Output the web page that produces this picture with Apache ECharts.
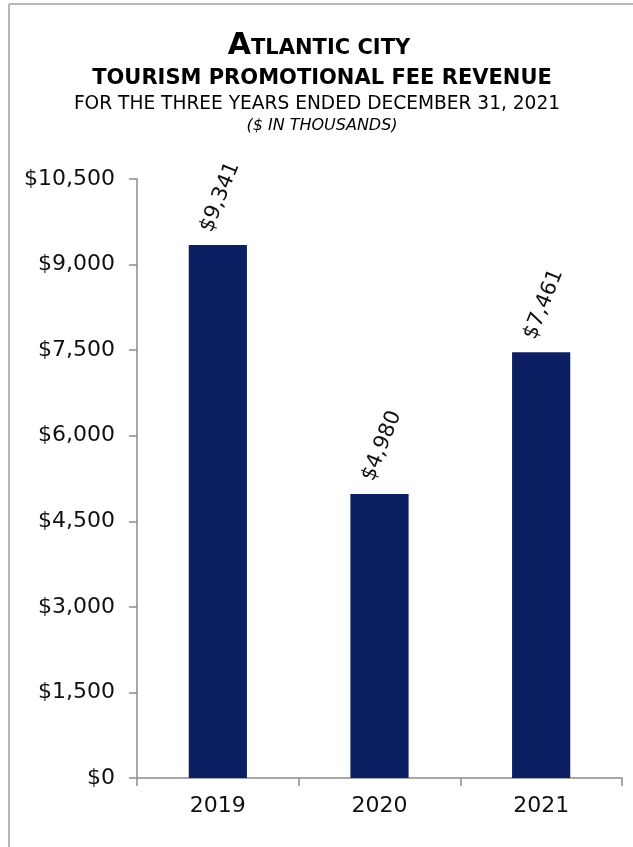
<!DOCTYPE html>
<html>
<head>
<meta charset="utf-8">
<style>
  html, body { margin: 0; padding: 0; background: #fff; }
  #main { width: 633px; height: 847px; }
</style>
<script src="https://cdn.jsdelivr.net/npm/echarts@6/dist/echarts.min.js"></script>
</head>
<body>
<div id="main"></div>
<script>
// 年份与收入（千美元）
var years = ['2019', '2020', '2021'];
var revenue = [9341, 4980, 7461];
var yMin = 0, yMax = 10500, yStep = 1500;

var font = '"DejaVu Sans", sans-serif';
var fmt = function (v) { return '$' + Number(v).toLocaleString('en-US'); };

var chart = echarts.init(document.getElementById('main'));
chart.setOption({
  animation: false,
  textStyle: { fontFamily: font },
  graphic: [
    // 外框
    { type: 'line', shape: { x1: 9, y1: 4, x2: 633, y2: 4 }, style: { stroke: '#a0a0a0', lineWidth: 1.5 } },
    { type: 'line', shape: { x1: 9, y1: 4, x2: 9, y2: 847 }, style: { stroke: '#a0a0a0', lineWidth: 1.5 } },
    // 标题
    {
      type: 'text', x: 319, y: 61,
      style: {
        text: '{big|A}{small|TLANTIC CITY}',
        align: 'center', verticalAlign: 'bottom',
        rich: {
          big: { fontSize: 30, fontWeight: 'bold', fontFamily: font, fill: '#000', lineHeight: 36, verticalAlign: 'bottom' },
          small: { fontSize: 21, fontWeight: 'bold', fontFamily: font, fill: '#000', lineHeight: 36, verticalAlign: 'bottom', padding: [0, 0, 2, 0] }
        }
      }
    },
    {
      type: 'text', x: 322, y: 79,
      style: { text: 'TOURISM PROMOTIONAL FEE REVENUE', align: 'center', verticalAlign: 'middle',
        fontSize: 21, fontWeight: 'bold', fontFamily: font, fill: '#000' }
    },
    {
      type: 'text', x: 317, y: 104,
      style: { text: 'FOR THE THREE YEARS ENDED DECEMBER 31, 2021', align: 'center', verticalAlign: 'middle',
        fontSize: 18.6, fontFamily: font, fill: '#000' }
    },
    {
      type: 'text', x: 322, y: 126,
      style: { text: '($ IN THOUSANDS)', align: 'center', verticalAlign: 'middle',
        fontSize: 16, fontStyle: 'italic', fontFamily: font, fill: '#000' }
    }
  ],
  grid: { left: 137, right: 11, top: 179, bottom: 69 },
  xAxis: {
    type: 'category',
    data: years,
    axisLine: { lineStyle: { color: '#8c8c8c', width: 1.5 } },
    axisTick: { show: true, length: 8, lineStyle: { color: '#8c8c8c', width: 1.5 } },
    axisLabel: { fontSize: 22, color: '#111', margin: 17, fontFamily: font }
  },
  yAxis: {
    type: 'value',
    min: yMin, max: yMax, interval: yStep,
    splitLine: { show: false },
    axisLine: { show: true, lineStyle: { color: '#8c8c8c', width: 1.5 } },
    axisTick: { show: true, length: 8, lineStyle: { color: '#8c8c8c', width: 1.5 } },
    axisLabel: { fontSize: 22, color: '#111', margin: 22, formatter: fmt, fontFamily: font }
  },
  series: [{
    type: 'bar',
    data: revenue,
    barWidth: '36%',
    itemStyle: { color: '#0c1f62' },
    label: {
      show: true,
      position: 'top',
      rotate: 68,
      align: 'left',
      verticalAlign: 'middle',
      distance: 18,
      offset: [-8, -9],
      fontSize: 21,
      color: '#111',
      fontFamily: font,
      formatter: function (p) { return fmt(p.value); }
    }
  }]
});
</script>
</body>
</html>
